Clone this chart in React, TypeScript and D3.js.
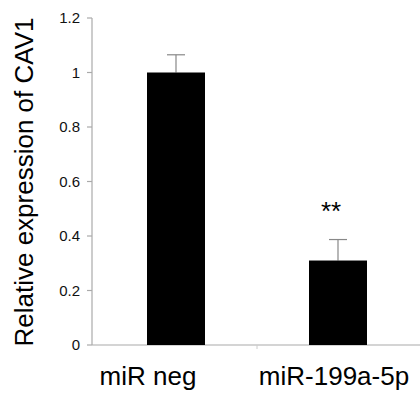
import React from "react";
import * as d3 from "d3";

const categories = ["miR neg", "miR-199a-5p"];
const values = [1.0, 0.31];
const errors = [0.065, 0.077];
const significance = ["", "**"];
const yTicks = [0, 0.2, 0.4, 0.6, 0.8, 1, 1.2];

export default function App() {
  const W = 420, H = 394;
  const y = d3.scaleLinear().domain([0, 1.2]).range([345, 18]);
  const x = d3.scaleBand().domain(categories).range([95, 419]).paddingInner(0).paddingOuter(0);
  const barW = 58;
  const labelX = [148, 334];
  const starShift = [0, -7];
  const font = "Liberation Sans, Arial, sans-serif";
  return (
    <svg width={W} height={H} style={{ position: "absolute", left: 0, top: 0 }} fontFamily={font}>
      <rect width={W} height={H} fill="#fff" />
      {/* y axis */}
      <line x1={92} x2={92} y1={y(1.2)} y2={y(0)} stroke="#aaa" strokeWidth={1.2} />
      {yTicks.map((t) => (
        <g key={t}>
          <line x1={87} x2={92} y1={y(t)} y2={y(t)} stroke="#aaa" strokeWidth={1.2} />
          <text x={80} y={y(t)} dy="0.35em" textAnchor="end" fontSize={15} fill="#111">
            {d3.format("")(t)}
          </text>
        </g>
      ))}
      {/* x axis */}
      <line x1={92} x2={420} y1={y(0)} y2={y(0)} stroke="#aaa" strokeWidth={1.2} />
      <line x1={x(categories[1])!} x2={x(categories[1])!} y1={y(0)} y2={y(0) + 4} stroke="#ccc" strokeWidth={1} />
      {categories.map((c, i) => {
        const cx = x(c)! + x.bandwidth() / 2;
        return (
          <g key={c}>
            <line x1={cx} x2={cx} y1={y(values[i])} y2={y(values[i] + errors[i])} stroke="#888" strokeWidth={1.2} />
            <line x1={cx - 9} x2={cx + 9} y1={y(values[i] + errors[i])} y2={y(values[i] + errors[i])} stroke="#888" strokeWidth={1.2} />
            <rect x={cx - barW / 2} y={y(values[i])} width={barW} height={y(0) - y(values[i])} fill="#000" />
            <text x={labelX[i]} y={385} textAnchor="middle" fontSize={26} fill="#000">
              {c}
            </text>
            {significance[i] && (
              <text x={cx + starShift[i]} y={y(values[i] + errors[i]) - 20} textAnchor="middle" fontSize={26} fill="#000">
                {significance[i]}
              </text>
            )}
          </g>
        );
      })}
      <text transform={`translate(33,182) rotate(-90)`} textAnchor="middle" fontSize={26} fill="#000">
        Relative expression of CAV1
      </text>
    </svg>
  );
}
